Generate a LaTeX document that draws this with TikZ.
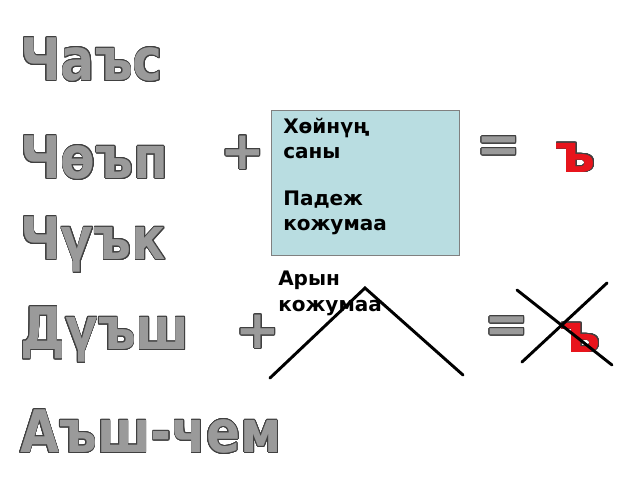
\documentclass[tikz,border=0pt]{standalone}
\usepackage{fontspec}
\setmainfont{DejaVu Sans}
\usepackage[copies]{contour}
\contourlength{0.6pt}
\contournumber{24}
\definecolor{wordgray}{HTML}{9A9A9A}
\definecolor{boxcyan}{HTML}{B9DDE1}
\definecolor{signred}{HTML}{E8141C}
\tikzset{
  word/.style={anchor=west, inner sep=0pt, xscale=0.86, text=wordgray, font=\bfseries\fontsize{44}{44}\selectfont},
  sign/.style={inner sep=0pt, text=wordgray, font=\bfseries\fontsize{40}{40}\selectfont},
  hard/.style={inner sep=0pt, text=signred, font=\bfseries\fontsize{40}{40}\selectfont},
  note/.style={anchor=north west, inner sep=0pt, align=left, font=\bfseries\fontsize{15}{19}\selectfont},
  stroke/.style={line width=2.2pt, line cap=round}
}
\begin{document}
\begin{tikzpicture}[x=0.75pt, y=-0.75pt]
  \useasboundingbox (0,0) rectangle (640,480);

  % words on the left
  \node[word] (w1) at (20,60) {\contour{darkgray}{Чаъс}};
  \node[word] (w2) at (20,158) {\contour{darkgray}{Чөъп}};
  \node[word] (w3) at (20,245) {\contour{darkgray}{Чүък}};
  \node[word] (w4) at (20,335) {\contour{darkgray}{Дүъш}};
  \node[word] (w5) at (20,432) {\contour{darkgray}{Аъш-чем}};

  % first row
  \node[sign] (p1) at (243,153) {\contour{darkgray}{+}};
  \draw[gray, fill=boxcyan] (271,110) rectangle (459,255);
  \node[note] (n1) at (283,118) {Хөйнүң\\саны\\[16pt]Падеж\\кожумаа};
  \node[sign] (e1) at (499,150) {\contour{darkgray}{=}};
  \node[hard] (h1) at (576,158) {\contour{darkgray}{ъ}};

  % second row
  \node[note] (n2) at (278,271) {Арын\\кожумаа};
  \node[sign] (p2) at (258,332) {\contour{darkgray}{+}};
  \coordinate (a1) at (270,378);
  \coordinate (a2) at (365,288);
  \coordinate (a3) at (463,375);
  \draw[stroke] (a1) -- (a2) -- (a3);
  \node[sign] (e2) at (507,330) {\contour{darkgray}{=}};
  \node[hard] (h2) at (581,338) {\contour{darkgray}{ъ}};
  \coordinate (x1) at (517,290);
  \coordinate (x2) at (612,365);
  \coordinate (x3) at (522,362);
  \coordinate (x4) at (607,283);
  \draw[stroke] (x1) -- (x2);
  \draw[stroke] (x3) -- (x4);
\end{tikzpicture}
\end{document}
